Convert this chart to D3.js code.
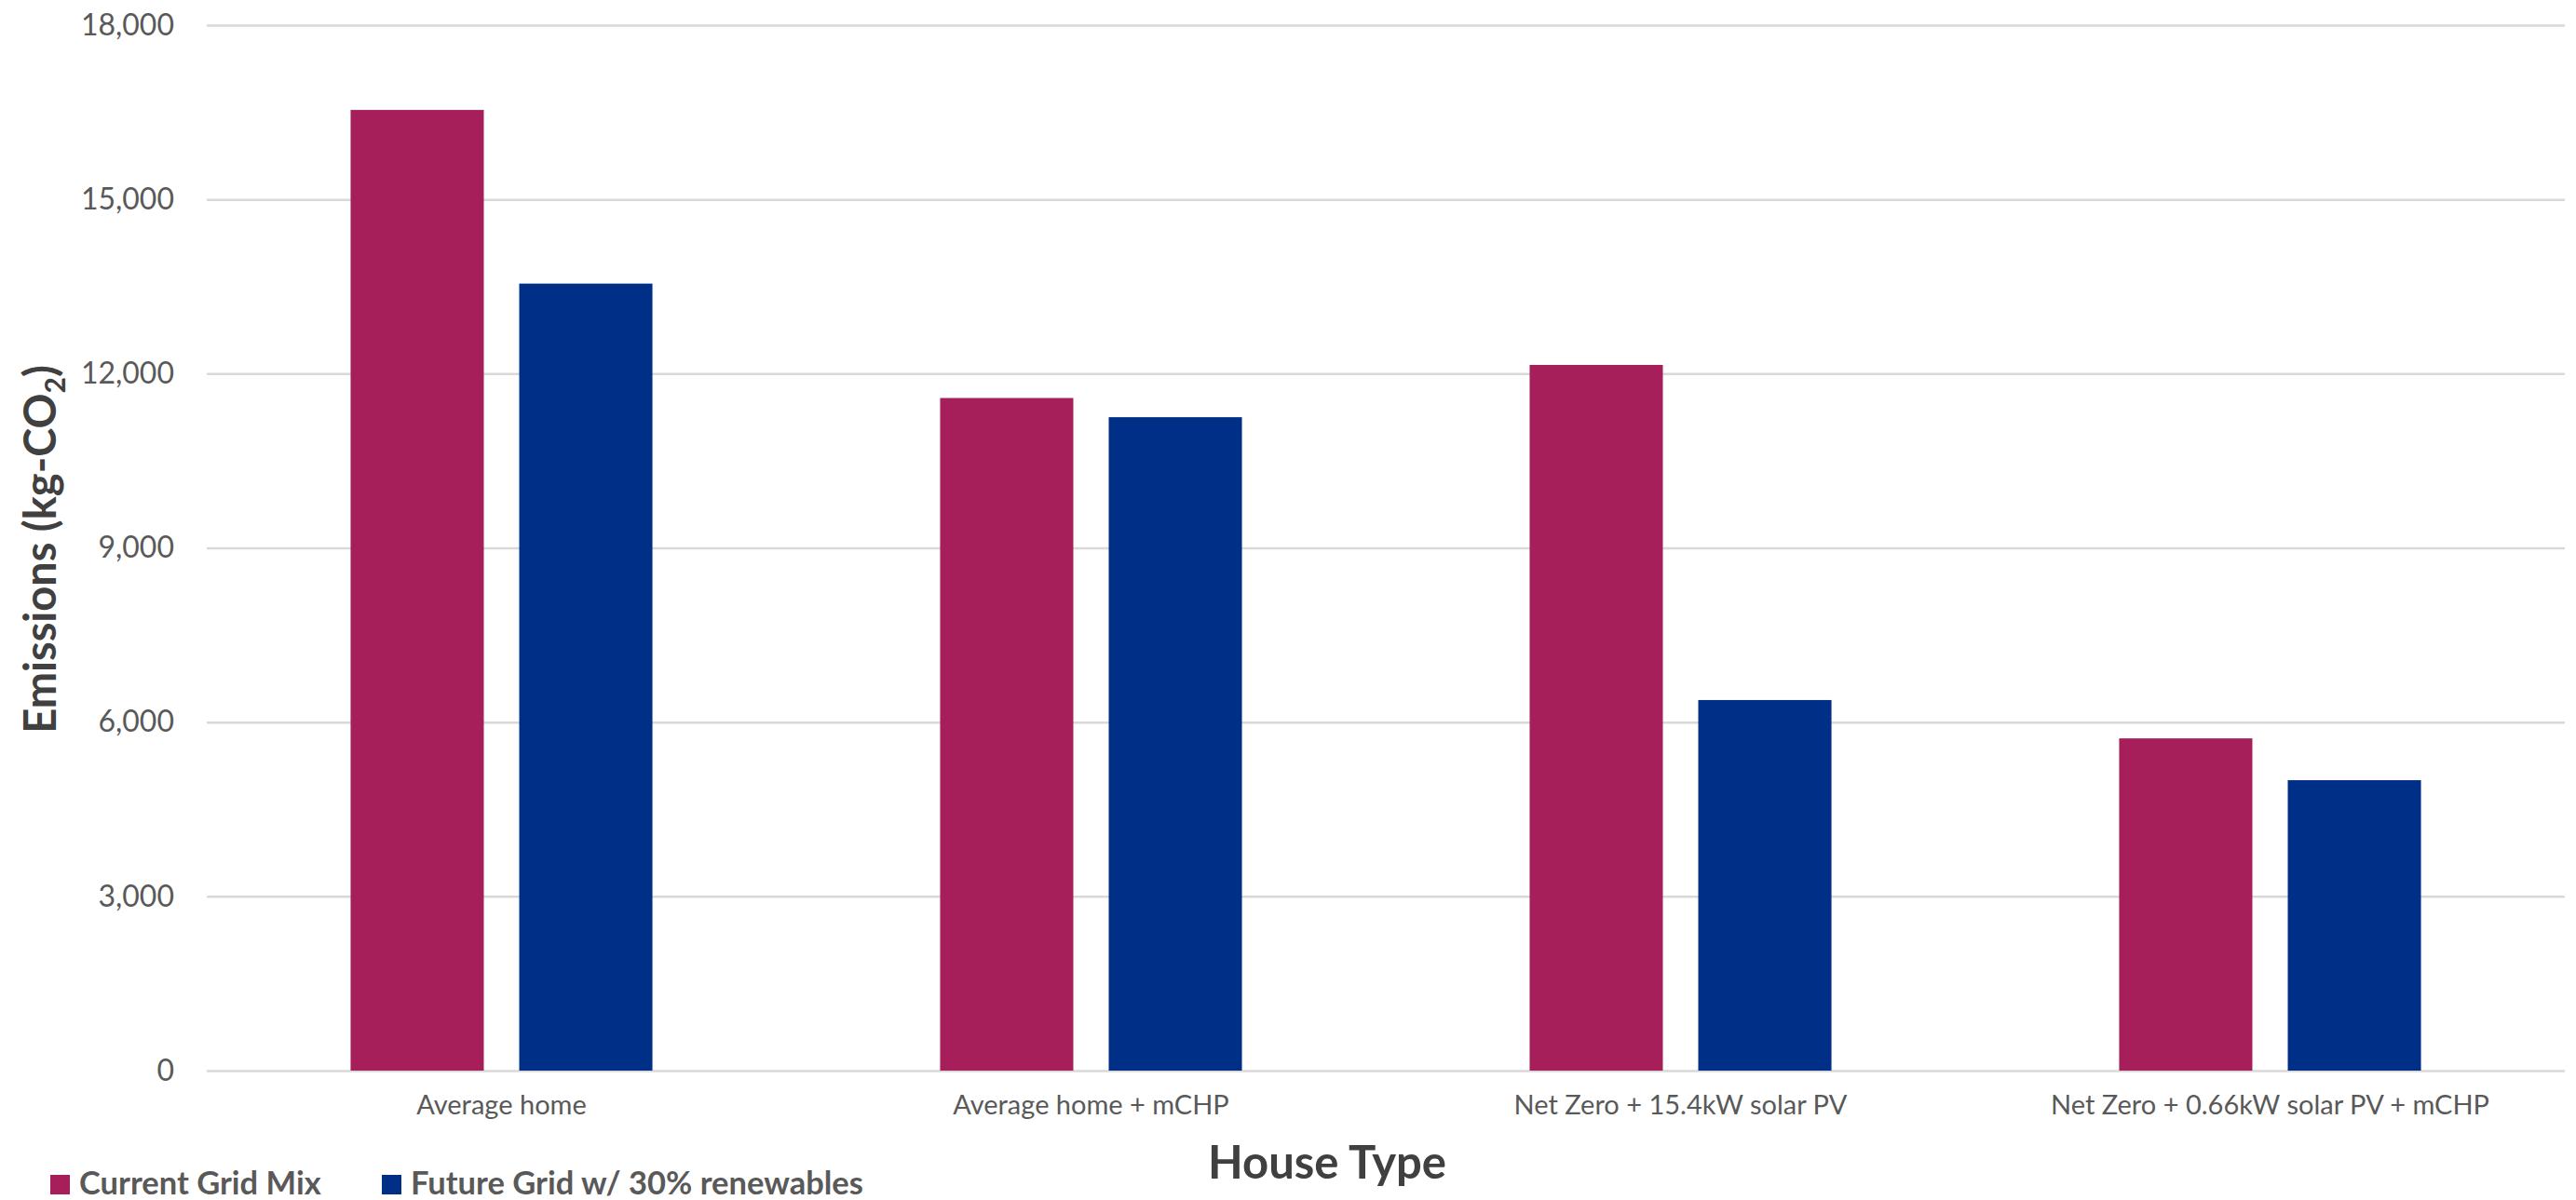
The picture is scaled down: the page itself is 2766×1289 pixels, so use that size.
<!DOCTYPE html>
<html>
<head>
<meta charset="utf-8">
<script src="https://cdn.jsdelivr.net/npm/d3@7"></script>
<style>
    html, body { margin: 0; padding: 0; background: #fff; }
    svg { display: block; font-family: Lato, 'Open Sans', sans-serif; }
</style>
</head>
<body>
<svg id="chart" width="2766" height="1289"></svg>
<script>
(function () {
    'use strict';

    // --- Data ------------------------------------------------------------

    var houseTypes = [
        'Average home',
        'Average home + mCHP',
        'Net Zero + 15.4kW solar PV',
        'Net Zero + 0.66kW solar PV + mCHP'
    ];
    var seriesNames = ['Current Grid Mix', 'Future Grid w/ 30% renewables'];
    var currentGrid = [16540, 11580, 12150, 5720];
    var futureGrid = [13550, 11250, 6380, 5000];
    var yTicks = [0, 3000, 6000, 9000, 12000, 15000, 18000];

    var colors = ['#A71F5A', '#002F87'];

    // --- Layout ----------------------------------------------------------

    var plot = { left: 222, right: 2754, top: 27, bottom: 1150 };

    var svg = d3.select('#chart');

    var x0 = d3.scaleBand()
        .domain(houseTypes)
        .range([plot.left, plot.right])
        .paddingInner(0.488)
        .paddingOuter(0.244);

    var x1 = d3.scaleBand()
        .domain(seriesNames)
        .range([0, x0.bandwidth()])
        .paddingInner(0.21)
        .paddingOuter(0);

    var y = d3.scaleLinear()
        .domain([0, 18000])
        .range([plot.bottom, plot.top]);

    var color = d3.scaleOrdinal().domain(seriesNames).range(colors);

    // --- Grid + y axis ---------------------------------------------------

    var yAxis = svg.append('g')
        .attr('transform', 'translate(' + plot.left + ',0)')
        .call(d3.axisLeft(y)
            .tickValues(yTicks)
            .tickFormat(d3.format(','))
            .tickSize(-(plot.right - plot.left))
            .tickPadding(35));

    yAxis.select('.domain').remove();
    yAxis.selectAll('.tick line')
        .attr('stroke', '#D9D9D9')
        .attr('stroke-width', 2.5);
    yAxis.selectAll('.tick text')
        .attr('fill', '#595959')
        .style('font-size', '32px')
        .style('font-family', 'Lato, sans-serif');

    // --- Bars ------------------------------------------------------------

    var rows = houseTypes.map(function (h, i) {
        return { type: h, values: [currentGrid[i], futureGrid[i]] };
    });

    var groups = svg.append('g').selectAll('g')
        .data(rows)
        .join('g')
        .attr('transform', function (d) {
            return 'translate(' + x0(d.type) + ',0)';
        });

    groups.selectAll('rect')
        .data(function (d) {
            return seriesNames.map(function (s, j) {
                return { key: s, value: d.values[j] };
            });
        })
        .join('rect')
        .attr('x', function (d) { return x1(d.key); })
        .attr('y', function (d) { return y(d.value); })
        .attr('width', x1.bandwidth())
        .attr('height', function (d) { return y(0) - y(d.value); })
        .attr('fill', function (d) { return color(d.key); });

    // --- x axis ----------------------------------------------------------

    var xAxis = svg.append('g')
        .attr('transform', 'translate(0,' + plot.bottom + ')')
        .call(d3.axisBottom(x0).tickSize(0).tickPadding(26));

    xAxis.select('.domain').remove();
    xAxis.selectAll('.tick text')
        .attr('fill', '#595959')
        .style('font-size', '29px')
        .style('font-family', 'Lato, sans-serif');

    // --- Axis titles -----------------------------------------------------

    svg.append('text')
        .attr('x', 1425)
        .attr('y', 1266)
        .attr('text-anchor', 'middle')
        .attr('fill', '#404040')
        .style('font-size', '49px')
        .style('font-weight', 'bold')
        .text('House Type');

    var yTitle = svg.append('text')
        .attr('transform', 'translate(60,590) rotate(-90)')
        .attr('text-anchor', 'middle')
        .attr('fill', '#404040')
        .style('font-size', '47px')
        .style('font-weight', 'bold');
    yTitle.append('tspan').text('Emissions (kg-CO');
    yTitle.append('tspan')
        .attr('dy', 10)
        .style('font-size', '30px')
        .text('2');
    yTitle.append('tspan')
        .attr('dy', -10)
        .text(')');

    // --- Legend ----------------------------------------------------------

    var legendX = [54, 410];
    var legend = svg.append('g').selectAll('g')
        .data(seriesNames)
        .join('g')
        .attr('transform', function (d, i) {
            return 'translate(' + legendX[i] + ',1262)';
        });

    legend.append('rect')
        .attr('width', 21)
        .attr('height', 21)
        .attr('fill', function (d) { return color(d); });

    legend.append('text')
        .attr('x', 31)
        .attr('y', 21)
        .attr('fill', '#595959')
        .style('font-size', '34.5px')
        .style('font-weight', 'bold')
        .text(function (d) { return d; });
}());
</script>
</body>
</html>
